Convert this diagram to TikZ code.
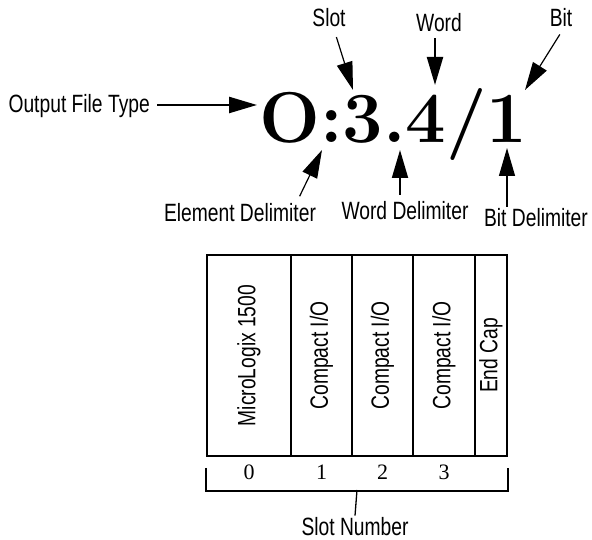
\documentclass[tikz,border=0pt]{standalone}
\usepackage{fontspec}
\usetikzlibrary{arrows.meta}
\newfontfamily\lblfont{Liberation Sans}[FakeStretch=0.77]
\newfontfamily\numfont{Liberation Serif}

\begin{document}
\begin{tikzpicture}[x=1pt,y=1pt]

    \tikzstyle{lbl} = [inner sep=2pt, anchor=base, font=\lblfont\fontsize{25}{28}\selectfont]
    \tikzstyle{modl} = [draw, line width=2pt, minimum height=201pt, inner sep=0pt, font=\lblfont\fontsize{25}{28}\selectfont]
    \tikzstyle{ptr} = [line width=1.2pt, -{Triangle[length=28pt,width=16pt]}]
    \tikzstyle{num} = [anchor=base, font=\numfont\fontsize{22}{24}\selectfont]

    \useasboundingbox (0,0) rectangle (592,540);

    % Address
    \node[anchor=base west, inner sep=0pt, font=\bfseries\fontsize{72}{80}\selectfont] at (259,397) (addr) {O:3.4/1};

    % Arrow tips
    \coordinate (tFile) at (257,435);
    \coordinate (tSlot) at (353,450);
    \coordinate (tWord) at (435,455);
    \coordinate (tBit) at (525,450);
    \coordinate (tElem) at (322,390);
    \coordinate (tWdel) at (400,390);
    \coordinate (tBdel) at (507,392);

    % Labels
    \node[lbl, anchor=base east] at (152,427) (file) {Output File Type};
    \node[lbl] at (329,513) (slot) {Slot};
    \node[lbl] at (439,508) (word) {Word};
    \node[lbl] at (561,513) (bit) {Bit};
    \node[lbl] at (240,318) (elem) {Element Delimiter};
    \node[lbl] at (405,320) (wdel) {Word Delimiter};
    \node[lbl] at (536,313) (bdel) {Bit Delimiter};

    % Arrows
    \draw[ptr, line width=2.4pt, shorten <=5pt] (file.east |- tFile) -- (tFile);
    \draw[ptr, shorten <=8pt] ([xshift=5pt]slot.south) -- (tSlot);
    \draw[ptr, line width=2.2pt, shorten <=4pt] ([xshift=-4pt]word.south) -- (tWord);
    \draw[ptr, shorten <=6pt] ([xshift=2pt]bit.south) -- (tBit);
    \draw[ptr, shorten <=6pt] ([xshift=57pt]elem.north) -- (tElem);
    \draw[ptr, line width=1.8pt, shorten <=5pt] ([xshift=-5pt]wdel.north) -- (tWdel);
    \draw[ptr] ([xshift=-29pt]bdel.north) -- (tBdel);

    % Modules
    \node[modl, minimum width=84pt] at (249,184.5) (mlx) {\rotatebox{90}{MicroLogix 1500}};
    \node[modl, minimum width=61pt] at (321.5,184.5) (cio1) {\rotatebox{90}{Compact I/O}};
    \node[modl, minimum width=61pt] at (382.5,184.5) (cio2) {\rotatebox{90}{Compact I/O}};
    \node[modl, minimum width=62pt] at (444,184.5) (cio3) {\rotatebox{90}{Compact I/O}};
    \node[modl, minimum width=32pt] at (491,184.5) (ecap) {\rotatebox{90}{End Cap}};

    % Slot numbers
    \node[num] at (mlx.center |- 0,60) (n0) {0};
    \node[num] at (cio1.center |- 0,60) (n1) {1};
    \node[num] at (cio2.center |- 0,60) (n2) {2};
    \node[num] at (cio3.center |- 0,60) (n3) {3};

    % Bracket
    \coordinate (bmid) at (357,50);
    \node[lbl] at (355,4) (slotnum) {Slot Number};
    \draw[line width=1.3pt] ([yshift=-11pt]mlx.south west) -- ([yshift=-34pt]mlx.south west)
        -- ([yshift=-34pt]ecap.south east) -- ([yshift=-11pt]ecap.south east);
    \draw[line width=1.3pt] (bmid) -- (slotnum.north);

\end{tikzpicture}
\end{document}
